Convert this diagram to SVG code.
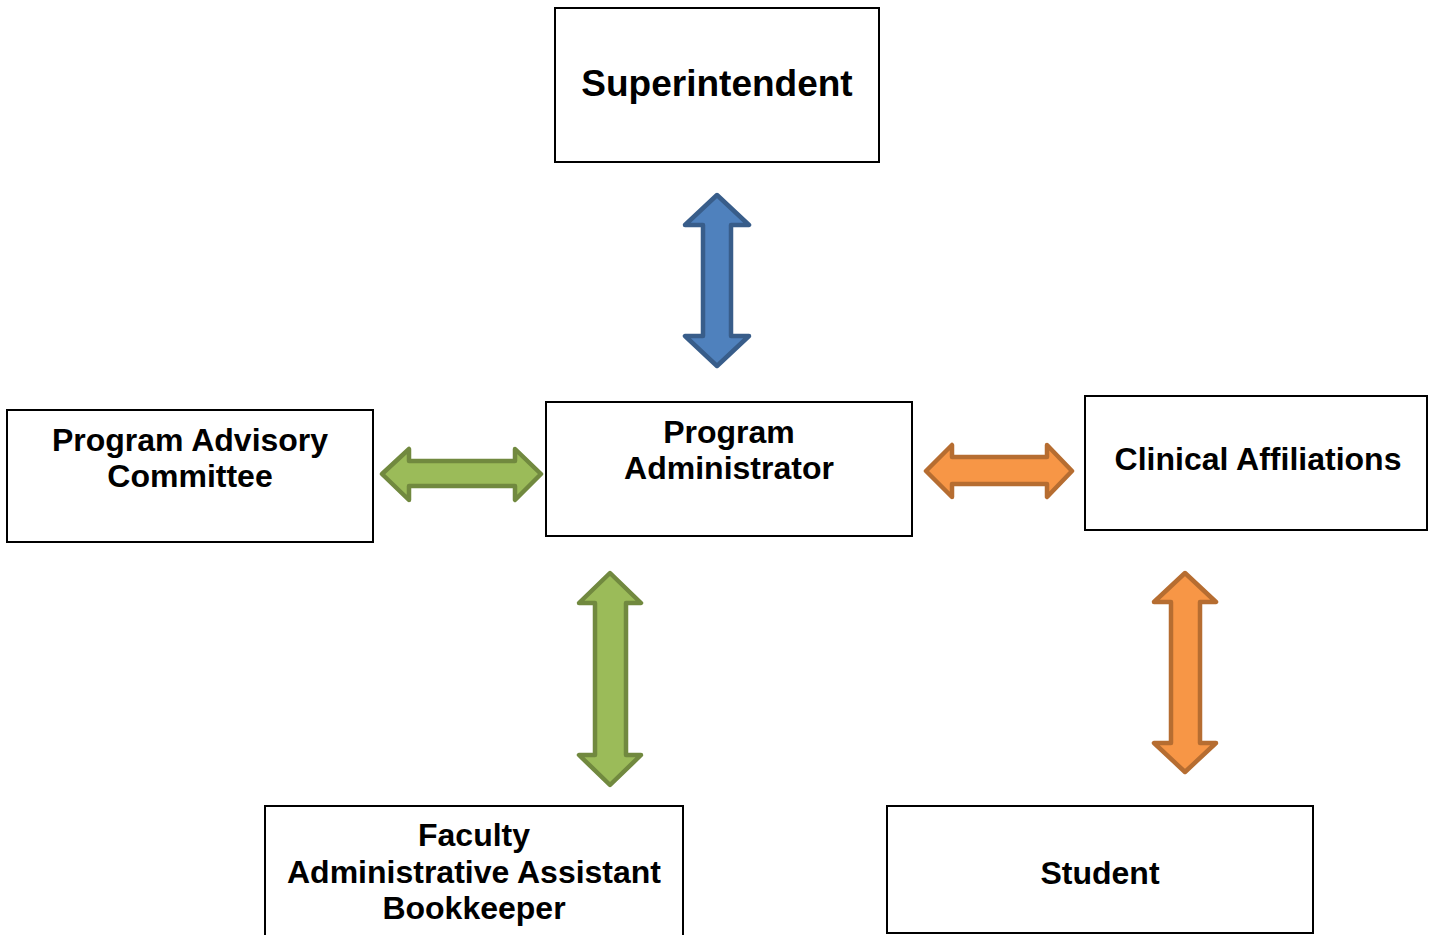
<svg xmlns="http://www.w3.org/2000/svg" width="1435" height="935" viewBox="0 0 1435 935">
<style>
.box{fill:#fff;stroke:#000;stroke-width:2}
.t{font-family:"Liberation Sans",Arial,sans-serif;font-weight:bold;font-size:32px;fill:#000;text-anchor:middle}
.arr{stroke-width:4.5;stroke-linejoin:round}
.blue{fill:#4f81bd;stroke:#385d8a}
.green{fill:#9bbb59;stroke:#71893f}
.orange{fill:#f79646;stroke:#b66d31}
</style>
<rect x="0" y="0" width="1435" height="935" fill="#fff"/>
<g id="connectors">
<path class="arr blue" d="M717,195 L749,225 L731,225 L731,336 L749,336 L717,366 L685,336 L703,336 L703,225 L685,225 Z"/>
<path class="arr green" d="M382,474 L409,449 L409,461 L515,461 L515,449 L541,474 L515,500 L515,486 L409,486 L409,500 Z"/>
<path class="arr orange" d="M926,471 L952,445 L952,457 L1047,457 L1047,445 L1072,471 L1047,497 L1047,484 L952,484 L952,497 Z"/>
<path class="arr green" d="M610,573 L641,603 L626,603 L626,755 L641,755 L610,785 L579,755 L595,755 L595,603 L579,603 Z"/>
<path class="arr orange" d="M1185,573 L1216,602 L1200,602 L1200,743 L1216,743 L1185,772 L1154,743 L1171,743 L1171,602 L1154,602 Z"/>
</g>
<g id="superintendent">
<rect class="box" x="555" y="8" width="324" height="154"/>
<text class="t" x="717" y="96" style="font-size:37px">Superintendent</text>
</g>
<g id="program-advisory-committee">
<rect class="box" x="7" y="410" width="366" height="132"/>
<text class="t" x="190" y="451">Program Advisory</text>
<text class="t" x="190" y="487">Committee</text>
</g>
<g id="program-administrator">
<rect class="box" x="546" y="402" width="366" height="134"/>
<text class="t" x="729" y="443">Program</text>
<text class="t" x="729" y="479">Administrator</text>
</g>
<g id="clinical-affiliations">
<rect class="box" x="1085" y="396" width="342" height="134"/>
<text class="t" x="1258" y="470">Clinical Affiliations</text>
</g>
<g id="faculty">
<rect class="box" x="265" y="806" width="418" height="140"/>
<text class="t" x="474" y="846">Faculty</text>
<text class="t" x="474" y="883">Administrative Assistant</text>
<text class="t" x="474" y="919">Bookkeeper</text>
</g>
<g id="student">
<rect class="box" x="887" y="806" width="426" height="127"/>
<text class="t" x="1100" y="884">Student</text>
</g>
</svg>
